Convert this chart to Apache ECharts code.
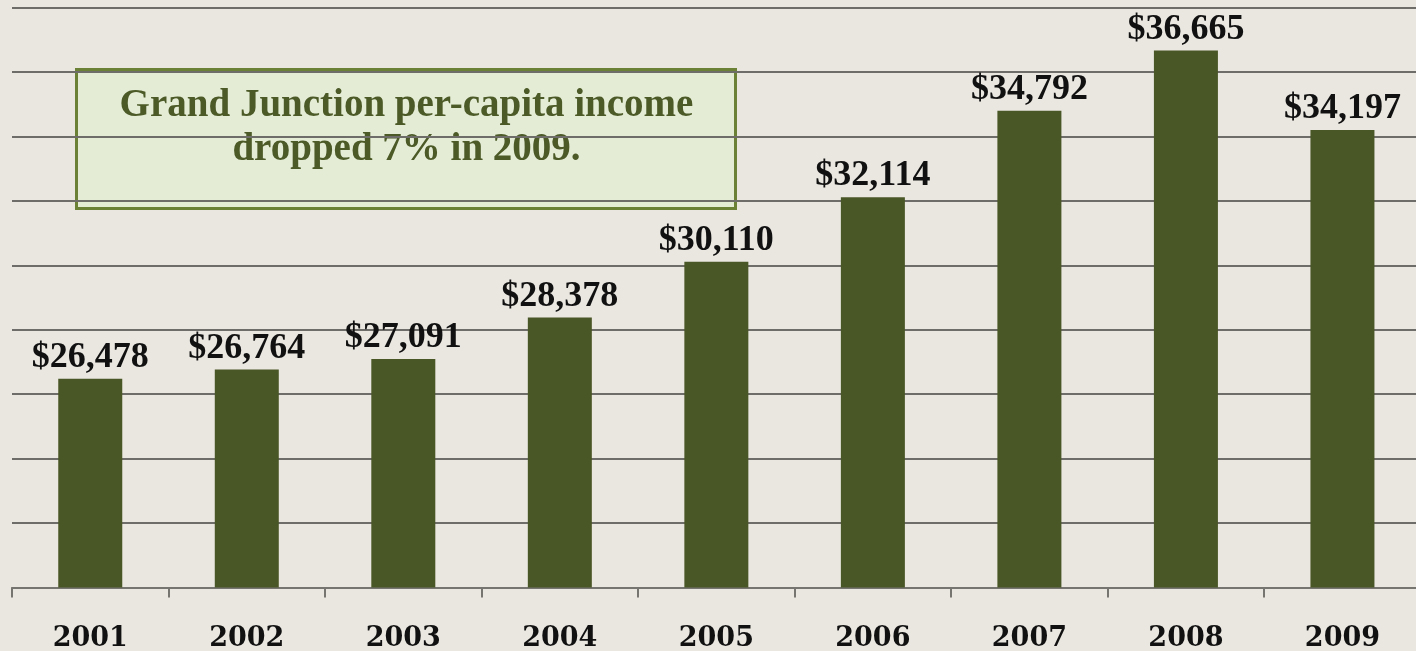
<!DOCTYPE html>
<html>
<head>
<meta charset="utf-8">
<script src="https://cdn.jsdelivr.net/npm/echarts@6/dist/echarts.min.js"></script>
<style>
  html, body { margin: 0; padding: 0; background: #eae7e1; }
  #chart { width: 1416px; height: 651px; }
</style>
</head>
<body>
<div id="chart"></div>
<script>
const years = ['2001', '2002', '2003', '2004', '2005', '2006', '2007', '2008', '2009']
const income = [26478, 26764, 27091, 28378, 30110, 32114, 34792, 36665, 34197]
const yMin = 20000
const yMax = 38000
const yStep = 2000
const noteLines = ['Grand Junction per-capita income', 'dropped 7% in 2009.']

const chart = echarts.init(document.getElementById('chart'))

function money(v) {
  return '$' + v.toLocaleString('en-US')
}

chart.setOption({
  backgroundColor: '#eae7e1',
  animation: false,
  grid: {
    left: 12,
    width: 1408.7,
    top: 7.5,
    height: 580,
    containLabel: false,
    outerBoundsMode: 'none',
  },
  xAxis: {
    type: 'category',
    data: years,
    axisLine: { lineStyle: { color: '#777570', width: 2 } },
    axisTick: { show: true, length: 10, lineStyle: { color: '#777570', width: 2 } },
    axisLabel: {
      margin: 38,
      color: '#111',
      fontFamily: 'DejaVu Serif',
      fontWeight: 'bold',
      fontSize: 27,
    },
  },
  yAxis: {
    type: 'value',
    min: yMin,
    max: yMax,
    interval: yStep,
    axisLine: { show: false },
    axisTick: { show: false },
    axisLabel: { show: false },
    splitLine: { lineStyle: { color: '#6f6d69', width: 2 } },
  },
  series: [
    {
      type: 'bar',
      data: income,
      barWidth: 64,
      itemStyle: { color: '#495625' },
      label: {
        show: true,
        position: 'top',
        distance: 3,
        color: '#111',
        fontFamily: 'Liberation Serif',
        fontWeight: 'bold',
        fontSize: 36,
        formatter: (p) => money(p.value),
      },
    },
  ],
  graphic: [
    {
      type: 'group',
      left: 75,
      top: 68,
      children: [
        {
          type: 'rect',
          shape: { x: 0, y: 0, width: 659, height: 139 },
          style: { fill: '#e5ecd6', stroke: '#6b8135', lineWidth: 3 },
        },
        {
          type: 'text',
          x: 330,
          y: 36,
          style: {
            text: noteLines[0],
            fill: '#4b5a27',
            font: 'bold 39px "Liberation Serif"',
            align: 'center',
            verticalAlign: 'middle',
          },
        },
        {
          type: 'text',
          x: 330,
          y: 80,
          style: {
            text: noteLines[1],
            fill: '#4b5a27',
            font: 'bold 39px "Liberation Serif"',
            align: 'center',
            verticalAlign: 'middle',
          },
        },
      ],
    },
  ],
})
</script>
</body>
</html>
